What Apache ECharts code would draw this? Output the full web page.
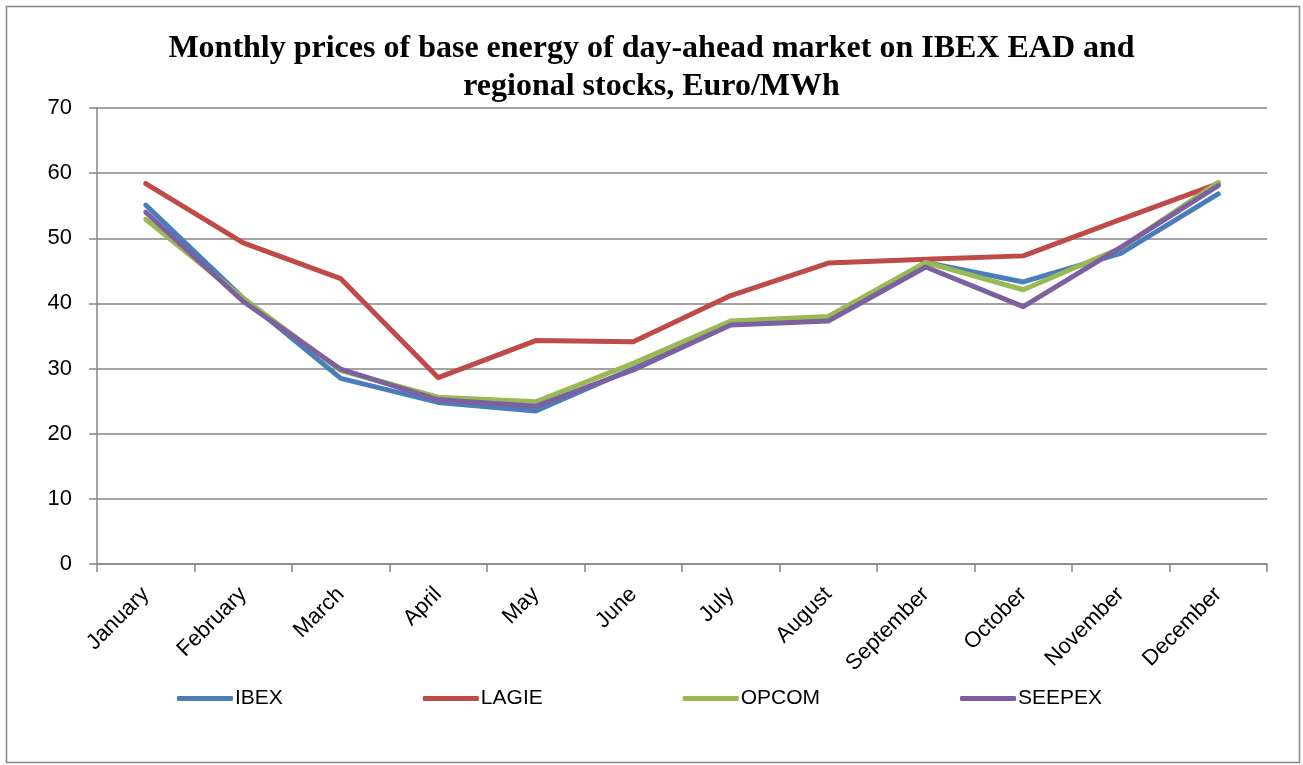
<!DOCTYPE html>
<html><head><meta charset="utf-8">
<script src="https://cdn.jsdelivr.net/npm/echarts@6/dist/echarts.min.js"></script>
<style>html,body{margin:0;padding:0;background:#fff}#c{width:1303px;height:765px}</style>
</head><body><div id="c"></div>
<script>
const months = ['January','February','March','April','May','June','July','August','September','October','November','December'];
const ibex   = [55.1, 40.8, 28.5, 24.8, 23.5, 30.0, 37.0, 37.6, 46.3, 43.3, 47.7, 56.8];
const lagie  = [58.4, 49.3, 43.8, 28.6, 34.3, 34.1, 41.2, 46.2, 46.8, 47.3, 52.9, 58.4];
const opcom  = [52.9, 40.8, 29.7, 25.6, 24.9, 30.8, 37.3, 38.0, 46.3, 42.1, 48.5, 58.6];
const seepex = [54.0, 40.3, 29.9, 25.2, 24.2, 29.8, 36.7, 37.3, 45.6, 39.5, 48.6, 58.1];
const yTicks = {min: 0, max: 70, interval: 10};

const chart = echarts.init(document.getElementById('c'));
const gridCol = '#868686';
const mk = (name, data, color) => ({
  name, type: 'line', data, symbol: 'none', smooth: false,
  lineStyle: {color, width: 5, cap: 'round', join: 'round'},
  itemStyle: {color}
});
chart.setOption({
  animation: false,
  graphic: [{type: 'rect', shape: {x: 6.5, y: 6.5, width: 1293, height: 756}, style: {fill: 'none', stroke: '#888', lineWidth: 1.5}, silent: true}],
  title: {
    text: 'Monthly prices of base energy of day-ahead market on IBEX EAD and\nregional stocks, Euro/MWh',
    left: 'center', top: 25,
    textStyle: {fontFamily: 'Liberation Serif', fontWeight: 'bold', fontSize: 32, color: '#000', lineHeight: 38}
  },
  legend: {
    left: 172, top: 683, itemWidth: 56, itemHeight: 5, itemGap: 140,
    icon: 'roundRect',
    textStyle: {fontFamily: 'Liberation Sans', fontSize: 21, color: '#000', padding: [0,0,0,-3]},
    data: ['IBEX','LAGIE','OPCOM','SEEPEX']
  },
  grid: {left: 97, right: 36, top: 108, bottom: 201, containLabel: false},
  xAxis: {
    type: 'category', data: months, boundaryGap: true,
    axisLine: {lineStyle: {color: gridCol, width: 1.5}},
    axisTick: {show: true, length: 8, lineStyle: {color: gridCol, width: 1.5}, alignWithLabel: false},
    axisLabel: {rotate: 45, margin: 27, fontFamily: 'Liberation Sans', fontSize: 22, color: '#000', interval: 0}
  },
  yAxis: {
    type: 'value', min: yTicks.min, max: yTicks.max, interval: yTicks.interval,
    axisLine: {show: true, lineStyle: {color: gridCol, width: 1.5}},
    axisTick: {show: true, length: 8, lineStyle: {color: gridCol, width: 1.5}},
    splitLine: {lineStyle: {color: gridCol, width: 1.5}},
    axisLabel: {margin: 25, fontFamily: 'Liberation Sans', fontSize: 22, color: '#000'}
  },
  series: [
    mk('IBEX', ibex, '#4A7EBB'),
    mk('LAGIE', lagie, '#BE4B48'),
    mk('OPCOM', opcom, '#98B954'),
    mk('SEEPEX', seepex, '#7D60A0')
  ]
});
</script></body></html>
